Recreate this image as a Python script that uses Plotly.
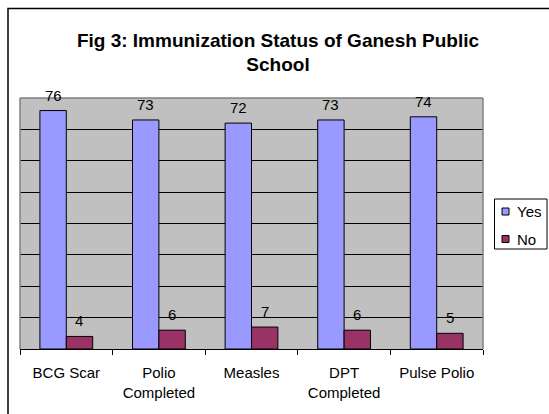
import plotly.graph_objects as go

categories = ["BCG Scar", "Polio<br>Completed", "Measles", "DPT<br>Completed", "Pulse Polio"]
yes_values = [76, 73, 72, 73, 74]
no_values = [4, 6, 7, 6, 5]
series_names = ["Yes", "No"]
series_colors = ["#9999FF", "#993366"]

W, H = 549, 414
L, R, T, B = 20, 66, 98, 65
PW, PH = W - L - R, H - T - B
BARGAP = 0.43
N_CAT = len(categories)
CAT_PX = PW / N_CAT
BAR_PX = CAT_PX * (1 - BARGAP) / 2


def px(x):
    """screen x -> paper fraction"""
    return (x - L) / PW


def py(y):
    """screen y -> paper fraction"""
    return (H - B - y) / PH


FONT = "Arial, Liberation Sans, sans-serif"

fig = go.Figure()
annotations = []
for k, (name, vals, col) in enumerate(zip(series_names, [yes_values, no_values], series_colors)):
    fig.add_trace(go.Bar(
        x=categories, y=vals, name=name,
        marker=dict(color=col, line=dict(color="#000000", width=1)),
        showlegend=False, hoverinfo="skip",
    ))
    shift = (k - 0.5) * BAR_PX
    for c, v in zip(categories, vals):
        annotations.append(dict(xref="x", yref="y", x=c, y=v, text=str(v),
                                xshift=shift, yshift=5, yanchor="bottom",
                                xanchor="center", showarrow=False,
                                font=dict(size=15, color="#000000", family=FONT)))

shapes = []
# outer chart frame (cropped at right and bottom)
shapes.append(dict(type="rect", xref="paper", yref="paper",
                   x0=px(8), x1=px(620), y0=py(470), y1=py(8.5),
                   line=dict(color="#000000", width=1.5), layer="above"))
# plot-area border (top, left, right)
for (x0, y0, x1, y1) in [(0, 1, 1, 1), (0, 0, 0, 1), (1, 0, 1, 1)]:
    shapes.append(dict(type="line", xref="paper", yref="paper",
                       x0=x0, y0=y0, x1=x1, y1=y1,
                       line=dict(color="#808080", width=1.5), layer="above"))
# legend box
shapes.append(dict(type="rect", xref="paper", yref="paper",
                   x0=px(494.5), x1=px(547), y0=py(249), y1=py(199),
                   line=dict(color="#000000", width=1), fillcolor="#FFFFFF"))
for i, (name, col) in enumerate(zip(series_names, series_colors)):
    cy = 211.5 + i * 27.5
    shapes.append(dict(type="rect", xref="paper", yref="paper",
                       x0=px(502), x1=px(509), y0=py(cy + 3.5), y1=py(cy - 3.5),
                       line=dict(color="#000000", width=1), fillcolor=col))
    annotations.append(dict(xref="paper", yref="paper", x=px(515), y=py(cy),
                            xanchor="left", yanchor="middle", text=name,
                            showarrow=False,
                            font=dict(size=15, color="#000000", family=FONT)))

fig.update_layout(
    width=W, height=H,
    margin=dict(l=L, r=R, t=T, b=B, pad=0),
    paper_bgcolor="#FFFFFF",
    plot_bgcolor="#C0C0C0",
    barmode="group", bargap=BARGAP, bargroupgap=0,
    title=dict(text="<b>Fig 3: Immunization Status of Ganesh Public<br>School</b>",
               x=278 / W, xanchor="center", y=1 - 46.5 / H, yanchor="middle",
               font=dict(size=19, color="#000000", family=FONT)),
    font=dict(family=FONT, size=15, color="#000000"),
    xaxis=dict(type="category", tickson="boundaries", ticks="outside", ticklen=5,
               tickcolor="#000000", showline=True, linecolor="#000000", linewidth=1,
               showgrid=False, ticklabelstandoff=10,
               tickfont=dict(size=15, color="#000000", family=FONT)),
    yaxis=dict(range=[0, 80], dtick=10, showticklabels=False, ticks="",
               showgrid=True, gridcolor="#000000", gridwidth=1, zeroline=False,
               showline=False),
    shapes=shapes,
    annotations=annotations,
)

fig.write_html(
    "out.html",
    config={"displayModeBar": False, "staticPlot": True},
    post_script="document.body.style.margin='0';document.body.style.overflow='hidden';",
)
